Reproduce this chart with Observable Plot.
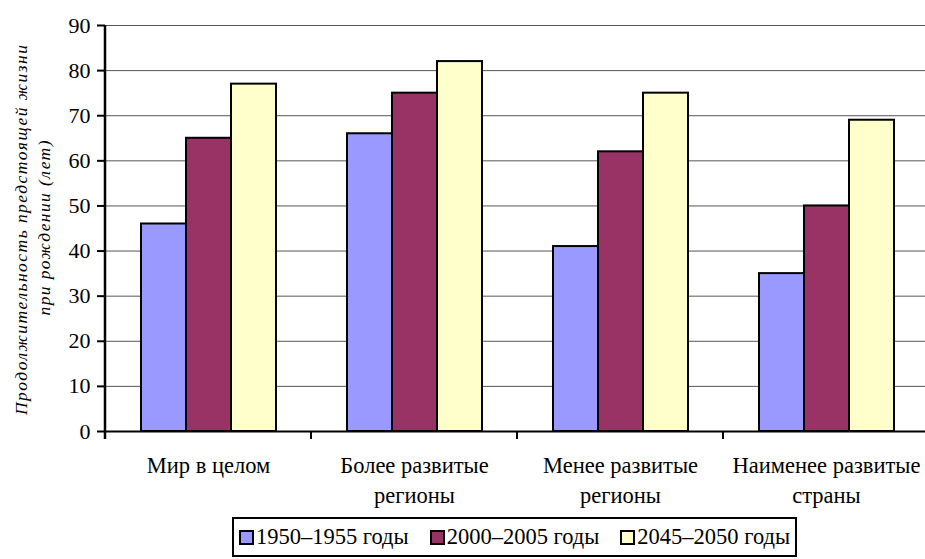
<!DOCTYPE html>
<html>
<head>
<meta charset="utf-8">
<script src="https://cdn.jsdelivr.net/npm/d3@7"></script>
<script src="https://cdn.jsdelivr.net/npm/@observablehq/plot@0.6"></script>
<style>
  html, body { margin: 0; padding: 0; background: #fff; overflow: hidden; }
  #wrap { position: relative; width: 925px; height: 559px; font-family: "Liberation Serif", Tinos, "Times New Roman", Times, "DejaVu Serif", serif; }
  #chart svg, #chart svg text { font-family: "Liberation Serif", Tinos, "Times New Roman", Times, "DejaVu Serif", serif !important; }
  #legend {
    position: absolute; left: 232px; top: 517px; width: 565px; height: 40px;
    box-sizing: border-box; border: 2px solid #000; background: #fff;
    display: flex; align-items: center; justify-content: center; gap: 21px;
    font-size: 22.5px; color: #000;
  }
  .item { display: flex; align-items: center; gap: 2px; white-space: nowrap; }
  .sw { width: 15px; height: 15px; box-sizing: border-box; border: 2px solid #000; }
</style>
</head>
<body>
<div id="wrap"><div id="chart"></div><div id="legend"></div></div>
<script>
const categories = ["Мир в целом", "Более развитые\nрегионы", "Менее развитые\nрегионы", "Наименее развитые\nстраны"];
const seriesNames = ["1950–1955 годы", "2000–2005 годы", "2045–2050 годы"];
const values1950 = [46, 66, 41, 35];
const values2000 = [65, 75, 62, 50];
const values2045 = [77, 82, 75, 69];
const yTicks = [0, 10, 20, 30, 40, 50, 60, 70, 80, 90];
const colors = ["#9999FF", "#993366", "#FFFFCC"];
const yTitle = ["Продолжительность предстоящей жизни", "при рождении (лет)"];

const seriesValues = [values1950, values2000, values2045];
const data = [];
categories.forEach((c, i) => seriesNames.forEach((s, j) => data.push({category: c, series: s, value: seriesValues[j][i]})));

const FONT = '"Liberation Serif", Tinos, "Times New Roman", Times, "DejaVu Serif", serif';
const TICK_SIZE = 22, CAT_SIZE = 22.5;

const chart = Plot.plot({
  width: 925, height: 510,
  marginLeft: 104, marginRight: -5, marginTop: 25, marginBottom: 79,
  style: `font-family: ${FONT}; color: #000; background: transparent; overflow: visible;`,
  fx: {domain: categories, padding: 0, label: null},
  x: {domain: seriesNames, paddingInner: 0, paddingOuter: 0.74, axis: null},
  y: {domain: [0, 90]},
  color: {domain: seriesNames, range: colors},
  marks: [
    Plot.gridY(yTicks.filter(d => d > 0), {stroke: "#555", strokeOpacity: 1, strokeWidth: 1}),
    Plot.barY(data, {fx: "category", x: "series", y: "value", fill: "series", stroke: "#000", strokeWidth: 2}),
    Plot.ruleY([0], {stroke: "#000", strokeWidth: 2}),
    Plot.axisY(yTicks, {tickSize: 8, tickPadding: 7, fontSize: TICK_SIZE, stroke: "#000", strokeWidth: 2, label: null}),
    Plot.axisFx({anchor: "bottom", tickSize: 0, tickPadding: 21, fontSize: CAT_SIZE, lineHeight: 1.3, lineAnchor: "top", label: null})
  ]
});
document.getElementById("chart").appendChild(chart);

const svg = d3.select(chart);
// enforce the text sizes on the axis labels
svg.selectAll('g[aria-label="y-axis tick label"], g[aria-label="y-axis tick label"] text')
  .attr("font-size", TICK_SIZE).style("font-size", TICK_SIZE + "px");
svg.selectAll('g[aria-label="fx-axis tick label"], g[aria-label="fx-axis tick label"] text')
  .attr("font-size", CAT_SIZE).style("font-size", CAT_SIZE + "px");

// axis decorations from the library's scales
const fx = chart.scale("fx");
const y = chart.scale("y");
const y0 = y.apply(0), yTop = y.apply(90);
const x0 = fx.apply(categories[0]);
svg.append("line").attr("x1", x0).attr("x2", x0).attr("y1", yTop).attr("y2", y0 + 8)
  .attr("stroke", "#000").attr("stroke-width", 2.5);
categories.forEach(c => {
  const xs = fx.apply(c);
  svg.append("line").attr("x1", xs).attr("x2", xs).attr("y1", y0).attr("y2", y0 + 8)
    .attr("stroke", "#000").attr("stroke-width", 2);
});

// y title
const yc = (y0 + yTop) / 2;
const tg = svg.append("g").attr("font-style", "italic").style("font-size", "17.5px").attr("fill", "#000");
tg.append("text").attr("transform", `translate(27,${yc + 2}) rotate(-90)`).attr("text-anchor", "middle")
  .attr("textLength", 370).attr("lengthAdjust", "spacing").text(yTitle[0]);
tg.append("text").attr("transform", `translate(50,${yc}) rotate(-90)`).attr("text-anchor", "middle")
  .attr("textLength", 175).attr("lengthAdjust", "spacing").text(yTitle[1]);

// legend
const legend = document.getElementById("legend");
seriesNames.forEach((s, i) => {
  const it = document.createElement("div"); it.className = "item";
  const sw = document.createElement("div"); sw.className = "sw"; sw.style.background = colors[i];
  const t = document.createElement("span"); t.textContent = s;
  it.appendChild(sw); it.appendChild(t); legend.appendChild(it);
});
</script>
</body>
</html>
